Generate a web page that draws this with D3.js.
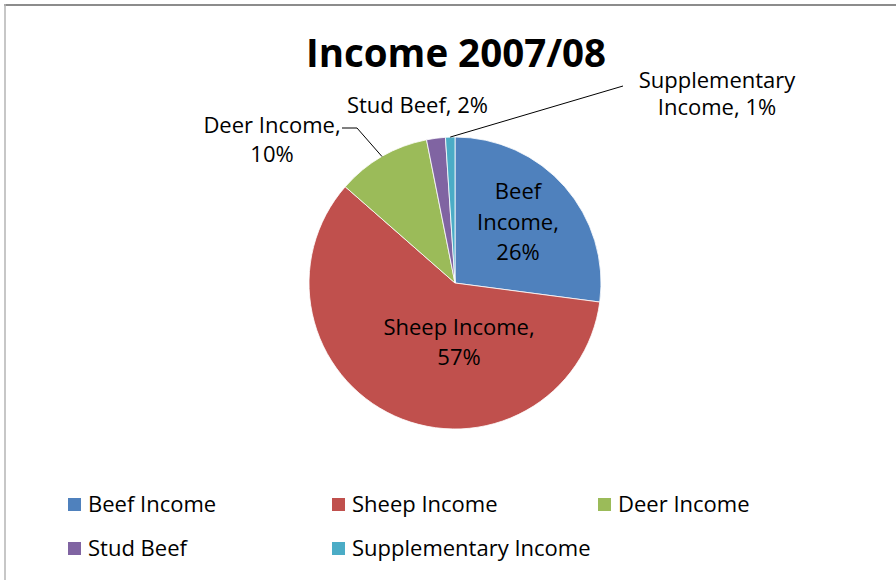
<!DOCTYPE html>
<html>
<head>
<meta charset="utf-8">
<script src="https://cdn.jsdelivr.net/npm/d3@7"></script>
<style>
  html, body { margin: 0; padding: 0; background: #fff; }
  svg { display: block; }
</style>
</head>
<body>
<script>
// data ------------------------------------------------------------------
const categories = ["Beef Income", "Sheep Income", "Deer Income", "Stud Beef", "Supplementary Income"];
const percents   = [26, 57, 10, 2, 1];
const colours    = ["#4F81BD", "#C0504D", "#9BBB59", "#8064A2", "#4BACC6"];
// data label text, one entry per line
const labelLines = [
  ["Beef", "Income,", "26%"],
  ["Sheep Income,", "57%"],
  ["Deer Income,", "10%"],
  ["Stud Beef, 2%"],
  ["Supplementary", "Income, 1%"]
];

const WIDTH = 896, HEIGHT = 580;
const FONT = "'Open Sans', 'Noto Sans', sans-serif";

// layout (not data)
const cx = 455, cy = 283, R = 146;
// label anchors relative to pie centre: [x, first baseline, line step]
const labelPos = [
  [63, -84, 30.5],
  [4, 52, 30],
  [-183, -150, 29],
  [-37.5, -170, 27],
  [262, -195.5, 27.5]
];
// leader lines: elbow points relative to centre (null = no leader)
const leaderPts = [null, null, [[-113, -155], [-98, -155]], null, [[168, -197]]];

const svg = d3.select("body").append("svg")
  .attr("width", WIDTH)
  .attr("height", HEIGHT);

svg.append("rect")
  .attr("width", WIDTH).attr("height", HEIGHT)
  .attr("fill", "#fff");

// chart frame (only top + left edges show in the crop)
svg.append("line")
  .attr("x1", 4).attr("x2", WIDTH).attr("y1", 5).attr("y2", 5)
  .attr("stroke", "#8c8c8c").attr("stroke-width", 2);
svg.append("line")
  .attr("x1", 5).attr("x2", 5).attr("y1", 4).attr("y2", HEIGHT)
  .attr("stroke", "#b4b4b4").attr("stroke-width", 1.5);

// title
svg.append("text")
  .attr("x", 456).attr("y", 67)
  .attr("text-anchor", "middle")
  .attr("font-family", FONT)
  .attr("font-weight", "bold")
  .attr("font-size", 38.5)
  .attr("fill", "#000")
  .text("Income 2007/08");

// pie -------------------------------------------------------------------
const color = d3.scaleOrdinal().domain(categories).range(colours);
const pie = d3.pie().sort(null).value(d => d.v);
const arcs = pie(categories.map((c, i) => ({ c, v: percents[i], i })));

const arc = d3.arc().innerRadius(0).outerRadius(R);
const edgeArc = d3.arc().innerRadius(R).outerRadius(R);

const g = svg.append("g").attr("transform", `translate(${cx},${cy})`);

g.selectAll("path.slice")
  .data(arcs).enter()
  .append("path")
  .attr("class", "slice")
  .attr("d", arc)
  .attr("fill", d => color(d.data.c))
  .attr("stroke", "#fff")
  .attr("stroke-width", 0.8);

// leader lines
g.selectAll("path.leader")
  .data(arcs.filter(d => leaderPts[d.data.i])).enter()
  .append("path")
  .attr("class", "leader")
  .attr("d", d => d3.line()([...leaderPts[d.data.i], edgeArc.centroid(d)]))
  .attr("fill", "none")
  .attr("stroke", "#000")
  .attr("stroke-width", 1);

// data labels
const lbl = g.selectAll("text.lbl")
  .data(arcs).enter()
  .append("text")
  .attr("class", "lbl")
  .attr("text-anchor", "middle")
  .attr("font-family", FONT)
  .attr("font-size", 22)
  .attr("fill", "#000");

lbl.each(function (d) {
  const [x, y0, step] = labelPos[d.data.i];
  d3.select(this).selectAll("tspan")
    .data(labelLines[d.data.i]).enter()
    .append("tspan")
    .attr("x", x)
    .attr("y", (t, k) => y0 + k * step)
    .text(t => t);
});

// legend ----------------------------------------------------------------
const legendCols = [68, 332, 598];
const legendRows = [511.5, 555.5];

const leg = svg.selectAll("g.leg")
  .data(categories).enter()
  .append("g")
  .attr("class", "leg")
  .attr("transform", (c, i) => `translate(${legendCols[i % 3]},${legendRows[Math.floor(i / 3)]})`);

leg.append("rect")
  .attr("x", 0).attr("y", -13.5)
  .attr("width", 13).attr("height", 13)
  .attr("fill", c => color(c));

leg.append("text")
  .attr("x", 20).attr("y", 0)
  .attr("font-family", FONT)
  .attr("font-size", 22)
  .attr("fill", "#000")
  .text(c => c);
</script>
</body>
</html>
